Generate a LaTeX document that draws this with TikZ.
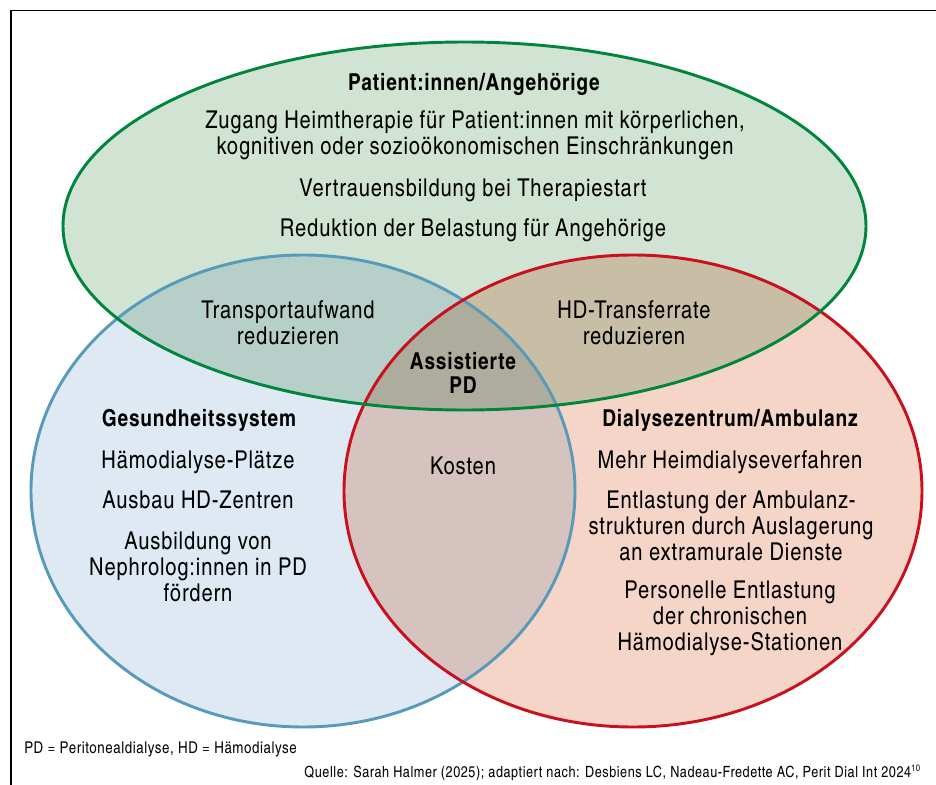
\documentclass[tikz,border=0pt]{standalone}
\usepackage{fontspec}
\setmainfont{texgyreheroscn}[Extension=.otf, UprightFont=*-regular, BoldFont=*-bold, ItalicFont=*-italic, BoldItalicFont=*-bolditalic, LetterSpace=3.5]
\usetikzlibrary{positioning}

\definecolor{gruenrand}{RGB}{0,134,60}
\definecolor{gruenflaeche}{RGB}{209,227,211}
\definecolor{blaurand}{RGB}{88,154,185}
\definecolor{blauflaeche}{RGB}{223,233,243}
\definecolor{rotrand}{RGB}{200,16,30}
\definecolor{rotflaeche}{RGB}{245,213,200}

\begin{document}
\begin{tikzpicture}[x=0.75pt, y=-0.75pt,
    txt/.style={align=center, font=\fontsize{18.4}{19.5}\selectfont, inner sep=0pt},
    titel/.style={txt, font=\fontsize{17.5}{18}\selectfont\bfseries},
    fuss/.style={inner sep=0pt, font=\fontsize{12.2}{14}\selectfont},
    rand/.style={line width=2.2pt}]
    \useasboundingbox (0,0) rectangle (936,785);

    % Rahmen (nur oben und links sichtbar)
    \draw[line width=1.1pt] (11,785) -- (11,10.5) -- (936,10.5);

    % Flaechen, ueberlagert per multiply
    \begin{scope}[blend group=multiply]
        \fill[gruenflaeche] (464.5,226) ellipse [x radius=401.5, y radius=184];
        \fill[blauflaeche] (303,491) ellipse [x radius=272, y radius=236];
        \fill[rotflaeche] (633,491) ellipse [x radius=289, y radius=236];
    \end{scope}

    % Raender
    \draw[rand, blaurand] (303,491) ellipse [x radius=272, y radius=236];
    \draw[rand, rotrand] (633,491) ellipse [x radius=289, y radius=236];
    \draw[rand, gruenrand] (464.5,226) ellipse [x radius=401.5, y radius=184];

    % Patient:innen/Angehoerige
    \node[titel] (pat) at (474,84) {Patient:innen/Angehörige};
    \node[txt] (zugang) at (475,135.5) {Zugang Heimtherapie für Patient:innen mit körperlichen,\\kognitiven oder sozioökonomischen Einschränkungen};
    \node[txt] (vertrauen) at (473,190) {Vertrauensbildung bei Therapiestart};
    \node[txt] (reduktion) at (473,230) {Reduktion der Belastung für Angehörige};

    % Schnittmengen
    \node[txt] (transport) at (288,323) {Transportaufwand\\reduzieren};
    \node[txt] (transfer) at (634,323) {HD-Transferrate\\reduzieren};
    \node[titel] (apd) at (463,373) {Assistierte\\PD};
    \node[txt] (kosten) at (463,466) {Kosten};

    % Gesundheitssystem
    \node[titel] (ges) at (199,420) {Gesundheitssystem};
    \node[txt] (plaetze) at (198,462) {Hämodialyse-Plätze};
    \node[txt] (ausbau) at (198,500) {Ausbau HD-Zentren};
    \node[txt] (ausbildung) at (198,567) {Ausbildung von\\Nephrolog:innen in PD\\fördern};

    % Dialysezentrum/Ambulanz
    \node[titel] (dz) at (730,420) {Dialysezentrum/Ambulanz};
    \node[txt] (heim) at (730,462) {Mehr Heimdialyseverfahren};
    \node[txt] (entlastung) at (731,526) {Entlastung der Ambulanz-\\strukturen durch Auslagerung\\an extramurale Dienste};
    \node[txt] (personal) at (730,618) {Personelle Entlastung\\der chronischen\\Hämodialyse-Stationen};

    % Fussnoten
    \node[fuss, anchor=west] (abk) at (24,749)
        {PD = Peritonealdialyse, HD = Hämodialyse};
    \node[fuss, anchor=east, font=\fontsize{11.6}{14}\selectfont] (quelle) at (921,773)
        {Quelle: Sarah Halmer (2025); adaptiert nach: Desbiens LC, Nadeau-Fredette AC, Perit Dial Int 2024\textsuperscript{\scriptsize 10}};
\end{tikzpicture}
\end{document}
